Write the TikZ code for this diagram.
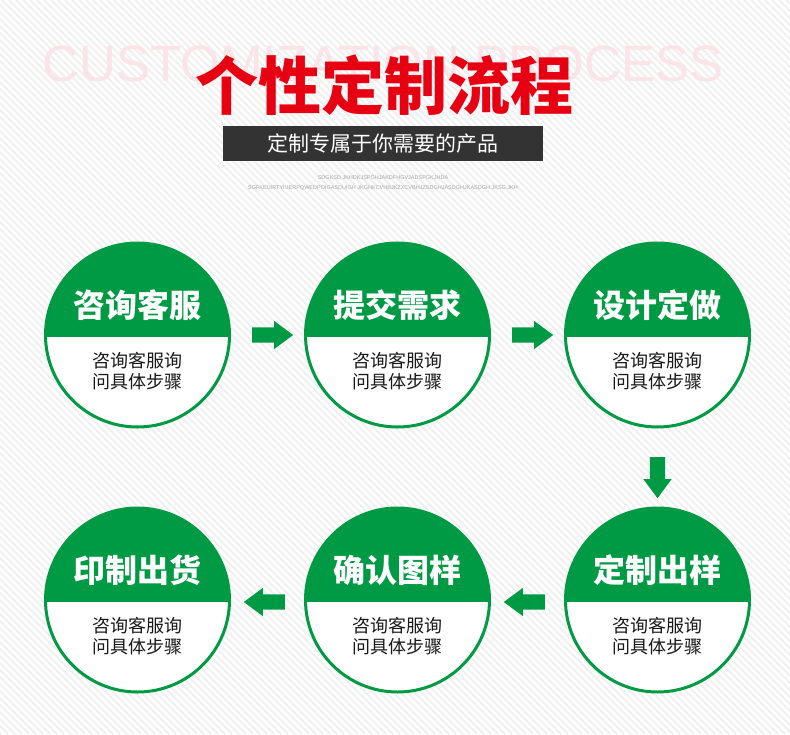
\documentclass[tikz,border=0pt]{standalone}
\usepackage{fontspec}
\setmainfont{Noto Sans CJK SC}
\newfontfamily\latinfont{Liberation Sans}
\usepackage{xcolor}
\usepackage{tikz}
\usetikzlibrary{positioning, calc, shapes.arrows}

\definecolor{procgreen}{HTML}{009A44}
\definecolor{procred}{HTML}{E60012}
\definecolor{ghostpink}{HTML}{FBE4E7}
\definecolor{boxgray}{HTML}{333333}
\definecolor{stripegray}{HTML}{F0F0F0}

\begin{document}
\begin{tikzpicture}[
        x=1pt, y=-1pt,
        node distance=260pt,
        on grid,
        % green top half, white bottom half, green ring
        stepcircle/.style={circle, draw=procgreen, line width=3pt, fill=white,
            minimum size=184pt, inner sep=0pt,
            path picture={\fill[procgreen] (path picture bounding box.north west)
                rectangle ([yshift=-2pt]path picture bounding box.east);}},
        stepname/.style={text=white, font=\bfseries\fontsize{32}{36}\selectfont},
        stepnote/.style={text=black!90, align=center, font=\fontsize{18}{21}\selectfont},
        flowarrow/.style={single arrow, fill=procgreen, inner xsep=0pt, inner ysep=7.5pt,
            minimum height=41pt,
            single arrow head extend=6.5pt, single arrow tip angle=73},
        stripe/.style={stripegray, line width=2pt}
    ]

    % --- Background ---
    \useasboundingbox[fill=white] (0,0) rectangle (790,734);
    \begin{scope}
        \clip (0,0) rectangle (790,734);
        \foreach \s in {-740,-733,...,790}
            \draw[stripe] (\s,0) -- (\s+734,734);
    \end{scope}

    % --- Header ---
    \node[text=ghostpink, font=\latinfont\fontsize{51}{51}\selectfont] (ghost) at (383,64) {CUSTOMIZATION PROCESS};
    \node[text=procred, font=\bfseries\fontsize{63}{63}\selectfont] (headline) at (384,85) {个性定制流程};
    \node[fill=boxgray, text=white, minimum width=320pt, minimum height=35pt,
        font=\fontsize{21}{21}\selectfont] (tagline) at (383,143.5) {定制专属于你需要的产品};
    \node[text=black!35, font=\latinfont\fontsize{5.5}{5.5}\selectfont] (small1) at (383,178) {SDGKSD JKHDKJSPGHJAKDFHGVJADSPGKJHDA};
    \node[text=black!35, font=\latinfont\fontsize{5.5}{5.5}\selectfont] (small2) at (383,188) {SGFKEUIRTYIUERPQWEDPOIGASDUIGH JKGHKCVHBJKZXCVBHJZSDGHJASDGHJKASDGH JKSG JKH};

    % --- Steps ---
    \node[stepcircle] (consult) at (137.5,335) {};
    \node[stepcircle, right=of consult] (submit) {};
    \node[stepcircle, right=of submit] (design) {};
    \node[stepcircle, below=265pt of design] (sample) {};
    \node[stepcircle, left=of sample] (confirm) {};
    \node[stepcircle, left=of confirm] (deliver) {};

    % --- Step titles ---
    \node[stepname, above=30pt of consult] (consult-name) {咨询客服};
    \node[stepname, above=30pt of submit] (submit-name) {提交需求};
    \node[stepname, above=30pt of design] (design-name) {设计定做};
    \node[stepname, above=30pt of sample] (sample-name) {定制出样};
    \node[stepname, above=30pt of confirm] (confirm-name) {确认图样};
    \node[stepname, above=30pt of deliver] (deliver-name) {印制出货};

    % --- Step notes ---
    \node[stepnote, below=36.5pt of consult] (consult-note) {咨询客服询\\问具体步骤};
    \node[stepnote, below=36.5pt of submit] (submit-note) {咨询客服询\\问具体步骤};
    \node[stepnote, below=36.5pt of design] (design-note) {咨询客服询\\问具体步骤};
    \node[stepnote, below=36.5pt of sample] (sample-note) {咨询客服询\\问具体步骤};
    \node[stepnote, below=36.5pt of confirm] (confirm-note) {咨询客服询\\问具体步骤};
    \node[stepnote, below=36.5pt of deliver] (deliver-note) {咨询客服询\\问具体步骤};

    % --- Arrows between steps ---
    \node[flowarrow] (arrow1) at ($(consult)!0.5!(submit)$) {};
    \node[flowarrow] (arrow2) at ($(submit)!0.5!(design)$) {};
    \node[flowarrow, shape border rotate=270, inner xsep=7.5pt, inner ysep=0pt, yshift=-5pt] (arrow3) at ($(design)!0.5!(sample)$) {};
    \node[flowarrow, shape border rotate=180, xshift=2pt, yshift=-2pt] (arrow4) at ($(sample)!0.5!(confirm)$) {};
    \node[flowarrow, shape border rotate=180, xshift=2pt, yshift=-2pt] (arrow5) at ($(confirm)!0.5!(deliver)$) {};

\end{tikzpicture}
\end{document}
